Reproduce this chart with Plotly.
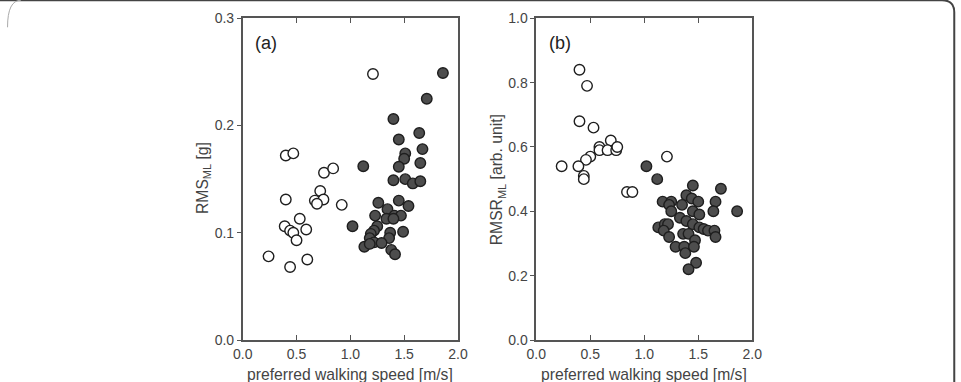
import plotly.graph_objects as go

W, H = 961, 382

# ---------------- data ----------------
# Panel (a): RMS_ML [g] vs preferred walking speed [m/s]
a_open_x = [1.21, 0.40, 0.47, 0.755, 0.84, 0.40, 0.72, 0.67, 0.75, 0.69, 0.92,
            0.39, 0.53, 0.44, 0.47, 0.59, 0.50, 0.24, 0.60, 0.44]
a_open_y = [0.248, 0.172, 0.174, 0.156, 0.160, 0.131, 0.139, 0.130, 0.131, 0.127, 0.126,
            0.106, 0.113, 0.102, 0.100, 0.103, 0.093, 0.078, 0.075, 0.068]
a_fill_x = [1.86, 1.71, 1.40, 1.64, 1.45, 1.67, 1.51, 1.50, 1.65, 1.12, 1.45,
            1.40, 1.51, 1.58, 1.65, 1.26, 1.45, 1.54, 1.345, 1.23, 1.41, 1.47,
            1.335, 1.40, 1.25, 1.02, 1.22, 1.37, 1.49, 1.19, 1.18, 1.36, 1.22,
            1.29, 1.13, 1.18, 1.38, 1.415]
a_fill_y = [0.249, 0.225, 0.206, 0.193, 0.187, 0.178, 0.174, 0.169, 0.165, 0.162, 0.1615,
            0.149, 0.150, 0.146, 0.148, 0.128, 0.130, 0.125, 0.122, 0.116, 0.116, 0.116,
            0.113, 0.113, 0.106, 0.106, 0.102, 0.100, 0.101, 0.099, 0.095, 0.095, 0.091,
            0.0905, 0.087, 0.0896, 0.084, 0.080]

# Panel (b): RMSR_ML [arb. unit] vs preferred walking speed [m/s]
b_open_x = [0.40, 0.47, 0.40, 0.53, 0.69, 0.585, 0.585, 0.66, 0.74, 0.75, 0.50,
            0.46, 0.39, 0.235, 1.21, 0.44, 0.44, 0.84, 0.89]
b_open_y = [0.84, 0.79, 0.68, 0.66, 0.62, 0.60, 0.59, 0.59, 0.59, 0.60, 0.57,
            0.56, 0.54, 0.54, 0.57, 0.51, 0.50, 0.46, 0.46]
b_fill_x = [1.02, 1.12, 1.45, 1.71, 1.39, 1.44, 1.17, 1.25, 1.50, 1.66, 1.23, 1.35,
            1.25, 1.45, 1.51, 1.64, 1.86, 1.33, 1.39, 1.45, 1.13, 1.19, 1.22, 1.51,
            1.55, 1.59, 1.65, 1.18, 1.23, 1.36, 1.41, 1.66, 1.47, 1.29, 1.37, 1.46,
            1.38, 1.48, 1.41]
b_fill_y = [0.54, 0.50, 0.48, 0.47, 0.45, 0.44, 0.43, 0.43, 0.43, 0.43, 0.42, 0.42,
            0.40, 0.40, 0.39, 0.40, 0.40, 0.38, 0.37, 0.36, 0.35, 0.36, 0.36, 0.35,
            0.345, 0.34, 0.34, 0.34, 0.32, 0.33, 0.33, 0.32, 0.31, 0.29, 0.29, 0.29,
            0.27, 0.24, 0.22]

x_ticks = [0.0, 0.5, 1.0, 1.5, 2.0]
a_yticks = [0.0, 0.1, 0.2, 0.3]
b_yticks = [0.0, 0.2, 0.4, 0.6, 0.8, 1.0]

# ---------------- style ----------------
FONT = "Liberation Sans, Arial, sans-serif"
AX = "#555555"
TXT = "#444444"
FILL = "#4d4d4d"
EDGE = "#1e1e1e"
MS = 10.5

# measured placement of the paper area in the rendered page
PX0, PW = 3.0, 953.0
PY0, PH = 8.75, 365.5


def px_x(x):
    return (x - PX0) / PW


def px_y(y):
    return 1 - (y - PY0) / PH


ydom = [px_y(340.3), px_y(19)]
dom_a = [px_x(238.7), px_x(456.7)]
dom_b = [px_x(536.0), px_x(754.7)]

fig = go.Figure()


def add_pts(x, y, xa, ya, filled):
    fig.add_trace(go.Scatter(
        x=x, y=y, mode="markers", xaxis=xa, yaxis=ya, cliponaxis=False,
        marker=dict(size=MS, color=FILL if filled else "white",
                    line=dict(color=EDGE, width=1.4)),
        showlegend=False, hoverinfo="x+y"))


add_pts(a_open_x, a_open_y, "x", "y", False)
add_pts(a_fill_x, a_fill_y, "x", "y", True)
add_pts(b_open_x, b_open_y, "x2", "y2", False)
add_pts(b_fill_x, b_fill_y, "x2", "y2", True)

common_x = dict(range=[0, 2], tickvals=x_ticks, tickformat=".1f",
                ticks="inside", ticklen=5, tickwidth=1.2, tickcolor=AX,
                showline=True, linecolor=AX, linewidth=1.6, mirror="ticks",
                showgrid=False, zeroline=False,
                tickfont=dict(family=FONT, size=14, color=TXT))
common_y = dict(tickformat=".1f", ticks="outside", ticklen=4, tickwidth=1.2,
                tickcolor=AX, showline=True, linecolor=AX, linewidth=1.6,
                mirror=True, showgrid=False, zeroline=False,
                tickfont=dict(family=FONT, size=14, color=TXT))
right_y = dict(side="right", ticks="inside", ticklen=5, tickwidth=1.2,
               tickcolor=AX, showticklabels=False, showline=False,
               showgrid=False, zeroline=False)

fig.update_layout(
    width=W, height=H, margin=dict(l=0, r=0, t=0, b=0, pad=0),
    paper_bgcolor="white", plot_bgcolor="white",
    xaxis=dict(domain=dom_a, anchor="y", **common_x),
    yaxis=dict(domain=ydom, anchor="x", range=[0, 0.3], tickvals=a_yticks, **common_y),
    xaxis2=dict(domain=dom_b, anchor="y2", **common_x),
    yaxis2=dict(domain=ydom, anchor="x2", range=[0, 1.0], tickvals=b_yticks, **common_y),
    yaxis3=dict(overlaying="y", anchor="x", range=[0, 0.3], tickvals=a_yticks, **right_y),
    yaxis4=dict(overlaying="y2", anchor="x2", range=[0, 1.0], tickvals=b_yticks, **right_y),
)

ann = []
tf = dict(family=FONT, color=TXT)
# x titles
for cx in (347.7, 645.3):
    ann.append(dict(x=px_x(cx), y=px_y(375), xref="paper", yref="paper",
                    text="preferred walking speed [m/s]", showarrow=False,
                    xanchor="center", yanchor="middle", font=dict(size=15.7, **tf)))
# y titles
ann.append(dict(x=px_x(199), y=px_y(179), xref="paper", yref="paper",
                text="RMS<sub>ML</sub> [g]", textangle=-90, showarrow=False,
                xanchor="center", yanchor="middle", font=dict(size=15.7, **tf)))
ann.append(dict(x=px_x(497), y=px_y(180), xref="paper", yref="paper",
                text="RMSR<sub>ML</sub> [arb. unit]", textangle=-90, showarrow=False,
                xanchor="center", yanchor="middle", font=dict(size=15.7, **tf)))
# panel labels
ann.append(dict(x=px_x(262.5), y=px_y(43.5), xref="paper", yref="paper",
                text="(a)", showarrow=False, xanchor="center", yanchor="middle",
                font=dict(size=18, color="#222222", family=FONT)))
ann.append(dict(x=px_x(560), y=px_y(43.5), xref="paper", yref="paper",
                text="(b)", showarrow=False, xanchor="center", yanchor="middle",
                font=dict(size=18, color="#222222", family=FONT)))
fig.update_layout(annotations=ann)

# outer frame (top and right edges of a rounded box)
frame = "#444444"
fig.add_shape(type="path", xref="paper", yref="paper",
              path=f"M {px_x(-10)} {px_y(1)} L {px_x(947)} {px_y(1)} "
                   f"Q {px_x(959.3)} {px_y(1)} {px_x(959.3)} {px_y(13)} L {px_x(959.3)} {px_y(395)}",
              line=dict(color=frame, width=2))
fig.add_shape(type="path", xref="paper", yref="paper",
              path=f"M {px_x(0.5)} {px_y(28)} Q {px_x(0.5)} {px_y(1)} {px_x(14)} {px_y(1)}",
              line=dict(color="#aaaaaa", width=1))

fig.write_html("out.html")
